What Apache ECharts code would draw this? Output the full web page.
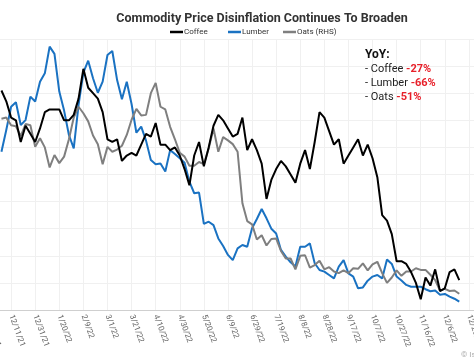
<!DOCTYPE html>
<html><head><meta charset="utf-8">
<script src="https://cdn.jsdelivr.net/npm/echarts@6/dist/echarts.min.js"></script>
<style>html,body{margin:0;padding:0;background:#fff}#c{width:474px;height:364px}</style>
</head><body><div id="c"></div>
<script>
// x positions: calendar days, first observation and step (days)
const firstDate = '2021-12-03';
const stepDays = 4;
const tickBase = '2021-12-11';   // first labelled tick
const tickEvery = 20;            // days between labels

const coffee = [2.31,2.27,2.21,2.20,2.12,2.18,2.15,2.12,2.17,2.23,
  2.24,2.24,2.24,2.20,2.20,2.22,2.28,2.39,2.32,2.30,
  2.28,2.23,2.13,2.12,2.13,2.05,2.07,2.08,2.07,2.11,
  2.15,2.14,2.19,2.11,2.11,2.09,2.10,2.07,2.02,1.96,
  2.07,2.12,2.03,2.10,2.18,2.22,2.20,2.17,2.14,2.15,
  2.21,2.09,2.13,2.09,2.04,1.91,1.98,2.02,2.05,2.03,
  2.00,1.97,2.04,2.09,2.02,2.12,2.23,2.21,2.16,2.11,
  2.13,2.04,2.07,2.10,2.13,2.07,2.11,2.06,1.99,1.85,
  1.83,1.78,1.68,1.68,1.67,1.64,1.60,1.54,1.62,1.59,
  1.65,1.57,1.58,1.64,1.65,1.61];
const lumber = [1001,1097,1200,1220,1119,1141,1245,1223,1311,1348,
  1466,1434,1267,1183,1075,1016,1208,1351,1404,1326,
  1262,1311,1429,1447,1318,1233,1311,1212,1085,1112,
  1050,964,945,949,913,1008,991,972,952,868,
  817,820,681,691,676,617,583,544,521,573,
  588,580,662,703,747,706,660,639,566,536,
  511,493,580,580,595,507,477,470,455,440,
  492,521,462,448,396,400,430,448,455,440,
  524,504,448,431,411,403,403,403,392,383,
  386,368,371,359,350,337];
const oats = [6.28,6.30,6.16,6.14,5.96,6.18,6.16,5.76,5.92,5.75,
  5.38,5.61,5.46,5.58,5.90,6.30,6.50,6.38,6.23,5.97,
  5.81,5.44,5.76,5.67,5.71,5.78,5.98,6.26,6.46,6.34,
  6.35,6.75,6.94,6.50,6.45,6.13,5.90,5.65,5.58,5.41,
  5.41,5.48,5.44,5.73,6.10,5.67,5.94,5.88,5.81,5.67,
  4.72,4.39,4.33,4.05,4.13,3.94,4.06,4.07,3.84,3.70,
  3.70,3.50,3.75,3.76,3.53,3.58,3.66,3.50,3.54,3.46,
  3.43,3.48,3.43,3.52,3.51,3.61,3.48,3.59,3.64,3.43,
  3.25,3.35,3.48,3.38,3.46,3.46,3.52,3.49,3.49,3.40,
  3.30,3.11,3.14,3.10,3.11,3.05];

const seriesNames = ['Coffee','Lumber','Oats (RHS)'];
const yoyLabels = ['Coffee','Lumber','Oats'];
const yoyValues = ['-27%','-66%','-51%'];

const DAY = 86400000;
const base = Date.parse(tickBase + 'T00:00:00Z');
const start = Date.parse(firstDate + 'T00:00:00Z');
const dayIdx = coffee.map((_, i) => Math.round((start - base) / DAY) + i * stepDays);
const pairs = arr => arr.map((v, i) => [dayIdx[i], v]);
function fmt(v) {
  const d = new Date(base + v * DAY);
  return (d.getUTCMonth() + 1) + '/' + d.getUTCDate() + '/' + String(d.getUTCFullYear()).slice(2);
}

const chart = echarts.init(document.getElementById('c'), null, {renderer: 'canvas'});
const FONT = 'Roboto, "Noto Sans", sans-serif';
const legendCommon = {top: 23, icon: 'rect', itemWidth: 13, itemHeight: 2.5, itemGap: 0,
  textStyle: {fontSize: 8, color: '#333', fontFamily: FONT, padding: [0, 0, 0, -4]}};
chart.setOption({
  animation: false,
  title: {text: 'Commodity Price Disinflation Continues To Broaden', left: 257, top: 7,
    textAlign: 'center',
    textStyle: {fontSize: 12.5, fontWeight: 'bold', color: '#333', fontFamily: FONT}},
  legend: [
    Object.assign({left: 165, data: [seriesNames[0]]}, legendCommon),
    Object.assign({left: 223, data: [seriesNames[1]]}, legendCommon),
    Object.assign({left: 278, data: [seriesNames[2]]}, legendCommon)
  ],
  grid: {left: -13, right: -19, top: 39, bottom: 54, containLabel: false, outerBoundsMode: 'none'},
  xAxis: {type: 'value', min: -20, max: 400, interval: tickEvery,
    axisLine: {show: true, lineStyle: {color: '#cfcfcf'}},
    axisTick: {show: false},
    splitLine: {show: true, lineStyle: {color: '#f0f0f0', width: 1}},
    axisLabel: {rotate: -70, fontSize: 8, color: '#666', fontFamily: FONT, margin: 5,
      formatter: fmt}},
  yAxis: [
    {type: 'value', min: 1.5, max: 2.5, interval: 0.1, position: 'left',
      axisLabel: {show: false}, axisLine: {show: false}, axisTick: {show: false},
      splitLine: {show: true, lineStyle: {color: '#f0f0f0'}}},
    {type: 'value', min: 300, max: 1500, interval: 120, position: 'left',
      axisLabel: {show: false}, axisLine: {show: false}, axisTick: {show: false},
      splitLine: {show: false}},
    {type: 'value', min: 2.75, max: 7.75, interval: 0.5, position: 'right',
      axisLabel: {show: false}, axisLine: {show: false}, axisTick: {show: false},
      splitLine: {show: false}}
  ],
  series: [
    {name: seriesNames[0], type: 'line', yAxisIndex: 0, data: pairs(coffee), showSymbol: false,
      symbol: 'none', z: 5, lineStyle: {color: '#000', width: 2}, itemStyle: {color: '#000'}},
    {name: seriesNames[1], type: 'line', yAxisIndex: 1, data: pairs(lumber), showSymbol: false,
      symbol: 'none', z: 3, lineStyle: {color: '#1a72c2', width: 2}, itemStyle: {color: '#1a72c2'}},
    {name: seriesNames[2], type: 'line', yAxisIndex: 2, data: pairs(oats), showSymbol: false,
      symbol: 'none', z: 4, lineStyle: {color: '#7f7f7f', width: 2}, itemStyle: {color: '#7f7f7f'}}
  ],
  graphic: [
    {type: 'text', left: 365, top: 49, z: 100, style: {text: 'YoY:', font: 'bold 12px ' + FONT, fill: '#111'}},
    {type: 'text', left: 365, top: 64, z: 100, style: {
      text: yoyLabels.map((l, i) => '{a|- ' + l + ' }{b|' + yoyValues[i] + '}').join('\n'),
      rich: {a: {fontSize: 11, fontFamily: FONT, fill: '#222', lineHeight: 14},
             b: {fontSize: 11, fontFamily: FONT, fontWeight: 'bold', fill: '#e8202a', lineHeight: 14}}}},
    {type: 'text', left: 461, top: 351, style: {text: '© Isabelnet', font: '8px ' + FONT, fill: '#aaa'}}
  ]
});
</script>
</body></html>
